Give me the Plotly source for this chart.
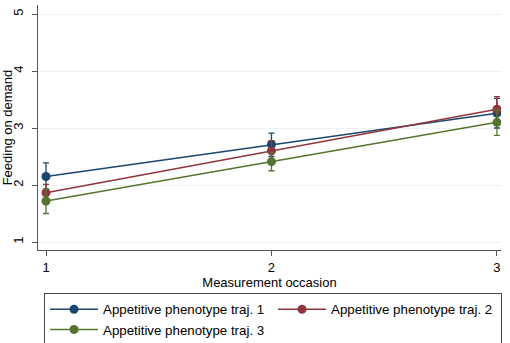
import plotly.graph_objects as go

occasions = [1, 2, 3]
traj1 = [2.15, 2.71, 3.26]
traj1_lo = [1.92, 2.50, 3.00]
traj1_hi = [2.39, 2.91, 3.52]
traj2 = [1.865, 2.60, 3.33]
traj2_lo = [1.70, 2.42, 3.12]
traj2_hi = [2.01, 2.78, 3.55]
traj3 = [1.72, 2.41, 3.10]
traj3_lo = [1.50, 2.25, 2.87]
traj3_hi = [1.93, 2.57, 3.32]
names = ["Appetitive phenotype traj. 1", "Appetitive phenotype traj. 2", "Appetitive phenotype traj. 3"]
colors = ["#1a476f", "#90353b", "#55752f"]

series = [(traj1, traj1_lo, traj1_hi), (traj2, traj2_lo, traj2_hi), (traj3, traj3_lo, traj3_hi)]

fig = go.Figure()
for (vals, lo, hi), name, col in zip(series, names, colors):
    fig.add_trace(go.Scatter(
        x=occasions, y=vals, name=name, mode="lines+markers",
        line=dict(color=col, width=1.4),
        marker=dict(color=col, size=9),
        error_y=dict(type="data", symmetric=False,
                     array=[h - v for h, v in zip(hi, vals)],
                     arrayminus=[v - l for v, l in zip(vals, lo)],
                     color=col, thickness=1.3, width=3),
    ))

font = "Liberation Sans, Arial, sans-serif"
fig.update_layout(
    width=510, height=343,
    margin=dict(l=38, r=9, t=5, b=93, autoexpand=False),
    paper_bgcolor="white", plot_bgcolor="white",
    font=dict(family=font, size=13, color="#000"),
    showlegend=True,
    legend=dict(orientation="h", x=0.013, y=-0.176, xanchor="left", yanchor="top",
                entrywidth=165, entrywidthmode="pixels",
                bordercolor="#444", borderwidth=1, font=dict(size=13.3),
                itemwidth=48, tracegroupgap=0),
    xaxis=dict(range=[0.9645, 3.018], tickvals=occasions, ticktext=["1", "2", "3"],
               automargin=False, showgrid=False, zeroline=False, showline=True,
               linecolor="#555", linewidth=1,
               ticks="outside", ticklen=5, tickcolor="#555", ticklabeloverflow="allow",
               title=dict(text="Measurement occasion", standoff=0, font=dict(size=13))),
    yaxis=dict(range=[0.86, 5.158], tickvals=[1, 2, 3, 4, 5], automargin=False,
               tickangle=-90, showgrid=True, gridcolor="#eaf2f3", gridwidth=1,
               zeroline=False, showline=True, linecolor="#555", linewidth=1,
               ticks="outside", ticklen=5, tickcolor="#555", ticklabelstandoff=4,
               title=dict(text="Feeding on demand", standoff=1, font=dict(size=13))),
)

fig.write_html("out.html", config={"displayModeBar": False},
               post_script="document.body.style.margin='0';")
